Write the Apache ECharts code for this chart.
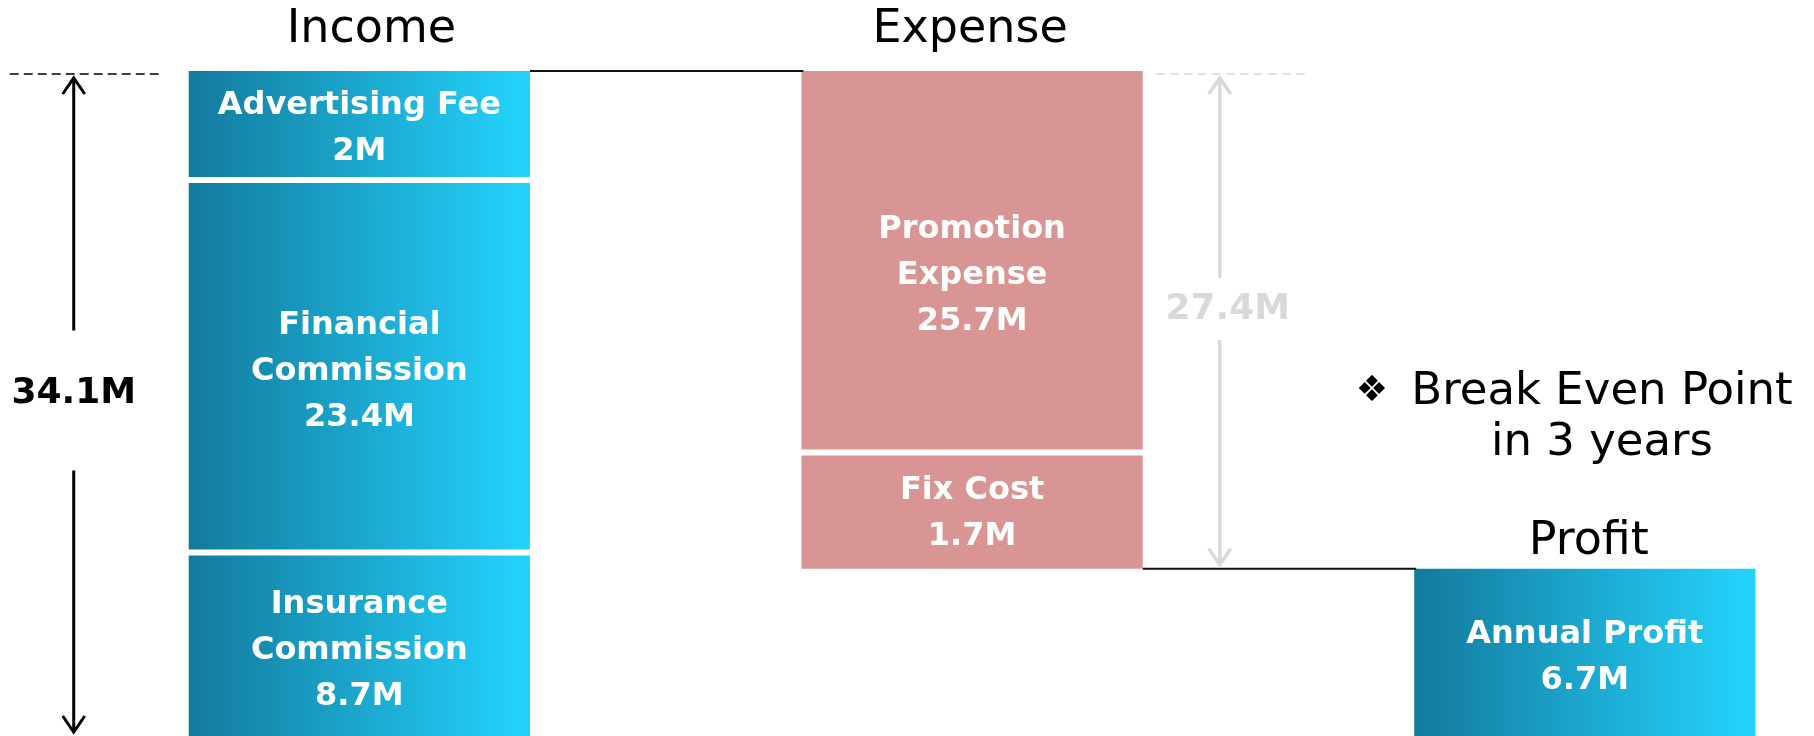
<!DOCTYPE html>
<html>
<head>
<meta charset="utf-8">
<title>Income / Expense / Profit</title>
<script src="https://cdn.jsdelivr.net/npm/echarts@6/dist/echarts.min.js"></script>
<style>
  html, body { margin: 0; padding: 0; background: #fff; }
  #chart { width: 1814px; height: 736px; }
</style>
</head>
<body>
<div id="chart"></div>
<script>
// column titles
const categories = ['Income', 'Expense', 'Profit'];

// income parts (top to bottom)
const incomeNames = ['Advertising Fee', 'Financial\nCommission', 'Insurance\nCommission'];
const incomeValues = [2, 23.4, 8.7];
// height each block is drawn with on the slide (the slide is not to scale)
const incomeBlocks = [6.0, 20.5, 10.1];

// expense parts (top to bottom)
const expenseNames = ['Promotion\nExpense', 'Fix Cost'];
const expenseValues = [25.7, 1.7];
const expenseBlocks = [21.0, 6.4];

// profit
const profitNames = ['Annual Profit'];
const profitValues = [6.7];
const profitBlocks = [9.2];

const note = ['Break Even Point', 'in 3 years'];

const sum = arr => Math.round(arr.reduce((a, b) => a + b, 0) * 10) / 10;
const incomeTotal = sum(incomeValues);              // 34.1
const expenseTotal = sum(expenseValues);            // 27.4
const profitTop = Math.round((incomeTotal - expenseTotal) * 10) / 10;
const yMin = Math.round((incomeTotal - sum(incomeBlocks)) * 10) / 10;

const BAR_RATIO = 0.557;
const GAP = 6;
const FONT = 'DejaVu Sans';
const PINK = '#D99594';
const blueFill = () => new echarts.graphic.LinearGradient(0, 0, 1, 0, [
  { offset: 0, color: '#137A9D' },
  { offset: 1, color: '#24D4FE' }
]);

// label nudges (px), the slide's text boxes are not quite centred
const labelDy = { 'Promotion\nExpense': 10, 'Fix Cost': -4 };

// flatten blocks into one list
const blockInfo = [];
function addBlocks(cat, top, names, values, blocks, color) {
  let hi = top;
  names.forEach((n, i) => {
    const lo = Math.round((hi - blocks[i]) * 10) / 10;
    blockInfo.push({ value: [cat, lo, hi, i, names.length], label: n + '\n' + values[i] + 'M', color, dy: 5 + (labelDy[n] || 0) });
    hi = lo;
  });
}
addBlocks(0, incomeTotal, incomeNames, incomeValues, incomeBlocks, 'blue');
addBlocks(1, incomeTotal, expenseNames, expenseValues, expenseBlocks, 'pink');
addBlocks(2, profitTop, profitNames, profitValues, profitBlocks, 'blue');

const titleGap = [41, 41, 27];
const titleDx = [12, -2, 4];

function renderBlock(params, api) {
  const cat = api.value(0);
  const lo = api.value(1);
  const hi = api.value(2);
  const idx = api.value(3);
  const count = api.value(4);
  const w = api.size([1, 0])[0] * BAR_RATIO;
  const top = api.coord([cat, hi]);
  const bottom = api.coord([cat, lo]);
  const y0 = top[1] + (idx > 0 ? GAP / 2 : 0);
  const y1 = bottom[1] - (idx < count - 1 ? GAP / 2 : 0);
  const info = blockInfo[params.dataIndex];
  const children = [{
    type: 'rect',
    shape: { x: top[0] - w / 2, y: y0, width: w, height: y1 - y0 },
    style: { fill: info.color === 'pink' ? PINK : blueFill() }
  }, {
    type: 'text',
    style: {
      text: info.label, x: top[0], y: (y0 + y1) / 2 + info.dy,
      align: 'center', verticalAlign: 'middle',
      fill: '#fff', fontFamily: FONT, fontWeight: 'bold', fontSize: 32, lineHeight: 46
    }
  }];
  if (idx === 0) {
    children.push({
      type: 'text',
      style: {
        text: categories[cat], x: top[0] + titleDx[cat], y: top[1] - titleGap[cat],
        align: 'center', verticalAlign: 'middle',
        fill: '#000', fontFamily: FONT, fontSize: 46
      }
    });
  }
  return { type: 'group', children };
}

function renderConnector(params, api) {
  const cat = api.value(0);
  const level = api.value(1);
  const w = api.size([1, 0])[0] * BAR_RATIO;
  const a = api.coord([cat, level]);
  const b = api.coord([cat + 1, level]);
  return {
    type: 'line',
    shape: { x1: a[0] + w / 2, y1: a[1], x2: b[0] - w / 2 + 2, y2: b[1] },
    style: { stroke: '#111', lineWidth: 2 }
  };
}

// span arrows beside income and expense
const spanStyle = [
  { color: '#000', arrowX: -115, dash: [-179, -29], textDx: 0, textDy: -10, above: 63, below: 77, width: 3 },
  { color: '#D9D9D9', arrowX: 77, dash: [13, 163], textDx: 8, textDy: -10, above: 32, below: 30, width: 3.5 }
];

function renderSpan(params, api) {
  const cat = api.value(0);
  const hi = api.value(1);
  const lo = api.value(2);
  const s = spanStyle[params.dataIndex];
  const w = api.size([1, 0])[0] * BAR_RATIO;
  const top = api.coord([cat, hi]);
  const bottom = api.coord([cat, lo]);
  const edge = s.arrowX < 0 ? top[0] - w / 2 : top[0] + w / 2;
  const x = edge + s.arrowX;
  const dashY = top[1] + 3;
  const tipTop = top[1] + 7;
  const tipBottom = bottom[1] - 4;
  const textY = (top[1] + bottom[1]) / 2 + s.textDy;
  const ls = { stroke: s.color, lineWidth: s.width, fill: null };
  return {
    type: 'group',
    children: [
      { type: 'line', shape: { x1: edge + s.dash[0], y1: dashY, x2: edge + s.dash[1], y2: dashY },
        style: { stroke: s.color, lineWidth: 1.5, lineDash: [9, 5] } },
      { type: 'line', shape: { x1: x, y1: tipTop, x2: x, y2: textY - s.above }, style: ls },
      { type: 'polyline', shape: { points: [[x - 11, tipTop + 16], [x, tipTop], [x + 11, tipTop + 16]] }, style: ls },
      { type: 'line', shape: { x1: x, y1: textY + s.below, x2: x, y2: tipBottom }, style: ls },
      { type: 'polyline', shape: { points: [[x - 11, tipBottom - 16], [x, tipBottom], [x + 11, tipBottom - 16]] }, style: ls },
      { type: 'text', style: {
          text: api.value(3) + 'M', x: x + s.textDx, y: textY,
          align: 'center', verticalAlign: 'middle',
          fill: s.color, fontFamily: FONT, fontWeight: 'bold', fontSize: 36
      } }
    ]
  };
}

const chart = echarts.init(document.getElementById('chart'));
chart.setOption({
  animation: false,
  grid: { left: 53, top: 71, right: 0, bottom: 0 },
  // columns sit at x = 0, 1, 2 (value axis so the band can be wider than the page allows)
  xAxis: { type: 'value', min: -0.5, max: 2.374, show: false },
  yAxis: { type: 'value', min: yMin, max: incomeTotal, show: false },
  graphic: [
    { type: 'text', x: 1372, y: 392, style: { text: '\u2756', align: 'center', verticalAlign: 'middle', fill: '#000', fontFamily: FONT, fontSize: 36 } },
    { type: 'text', x: 1602, y: 392, style: { text: note[0], align: 'center', verticalAlign: 'middle', fill: '#000', fontFamily: FONT, fontSize: 45 } },
    { type: 'text', x: 1602, y: 443, style: { text: note[1], align: 'center', verticalAlign: 'middle', fill: '#000', fontFamily: FONT, fontSize: 45 } }
  ],
  series: [
    {
      type: 'custom', clip: false,
      renderItem: renderBlock,
      encode: { x: 0, y: [1, 2] },
      data: blockInfo.map(b => b.value)
    },
    {
      type: 'custom', clip: false,
      renderItem: renderConnector,
      encode: { x: 0, y: 1 },
      data: [[0, incomeTotal], [1, profitTop]]
    },
    {
      type: 'custom', clip: false,
      renderItem: renderSpan,
      encode: { x: 0, y: [1, 2] },
      data: [[0, incomeTotal, yMin, incomeTotal], [1, incomeTotal, profitTop, expenseTotal]]
    }
  ]
});
window.addEventListener('resize', () => chart.resize());
</script>
</body>
</html>
